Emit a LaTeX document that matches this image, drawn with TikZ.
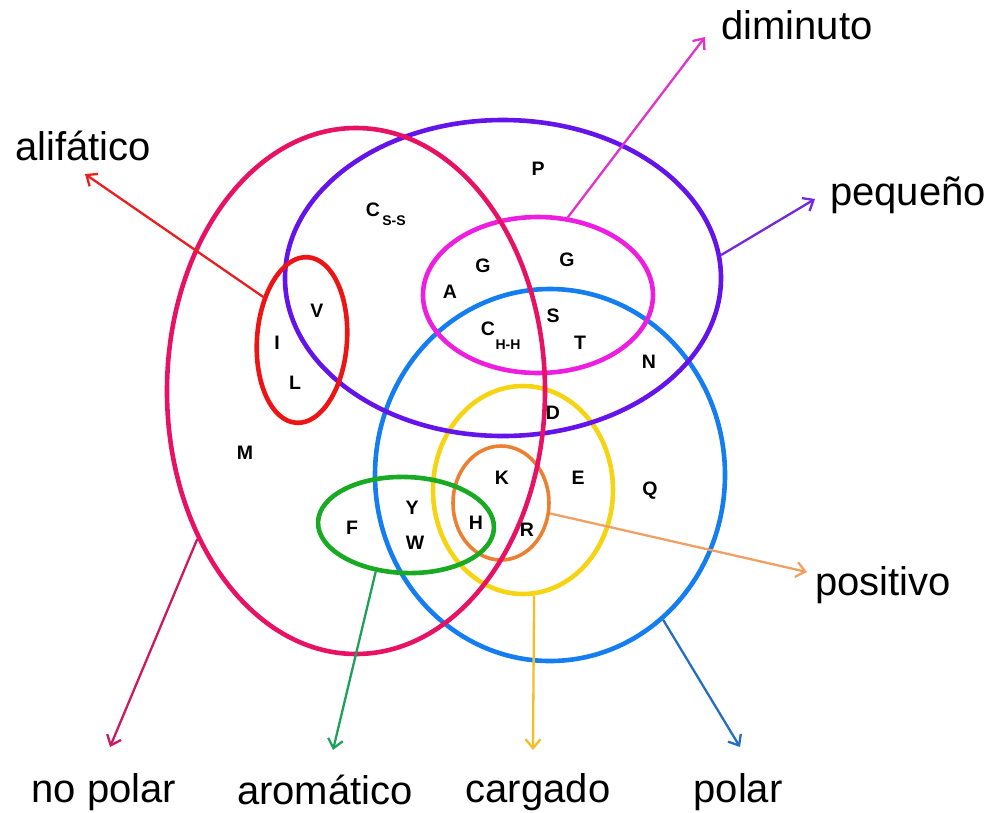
\documentclass[tikz,border=0pt]{standalone}
\usepackage{fontspec}
\setmainfont{Liberation Sans}
\usetikzlibrary{shapes.geometric,arrows.meta}
\definecolor{cpink}{RGB}{232,18,100}
\definecolor{cpurple}{RGB}{100,20,235}
\definecolor{cmag}{RGB}{238,30,225}
\definecolor{cblue}{RGB}{20,125,240}
\definecolor{cyellow}{RGB}{245,212,20}
\definecolor{corange}{RGB}{236,128,50}
\definecolor{cgreen}{RGB}{25,170,35}
\definecolor{cred}{RGB}{236,20,20}
\definecolor{apink}{RGB}{205,25,95}
\definecolor{apurple}{RGB}{115,40,220}
\definecolor{amag}{RGB}{225,50,205}
\definecolor{ablue}{RGB}{35,110,190}
\definecolor{ayellow}{RGB}{245,190,40}
\definecolor{aorange}{RGB}{240,160,100}
\definecolor{agreen}{RGB}{30,160,90}
\definecolor{ared}{RGB}{235,30,30}
\begin{document}
\begin{tikzpicture}[x=1pt,y=-1pt,
  setshape/.style={draw,ellipse,line width=4.6pt,inner sep=0pt},
  lab/.style={font=\fontsize{40}{48}\selectfont,inner sep=0pt,anchor=base},
  aa/.style={font=\bfseries\fontsize{19.5}{21}\selectfont,inner sep=0pt},
  sub/.style={font=\bfseries\fontsize{14}{15}\selectfont,inner sep=0pt},
  arr/.style={line width=2.3pt,-{Straight Barb[length=9pt,width=15pt,line width=2.3pt]}}]
\useasboundingbox (0,0) rectangle (994,812);

% sets
\node[setshape,cblue,minimum width=350pt,minimum height=372pt] (polar) at (550,475) {};
\node[setshape,cyellow,minimum width=180pt,minimum height=208pt] (cargado) at (523,490) {};
\node[setshape,corange,line width=3.6pt,minimum width=96pt,minimum height=114pt] (positivo) at (501,503) {};
\node[setshape,cgreen,rotate=-2,minimum width=176pt,minimum height=96pt] (aromatico) at (406,525) {};
\node[setshape,cpurple,minimum width=436pt,minimum height=316pt] (pequeno) at (503,278) {};
\node[setshape,cmag,minimum width=230pt,minimum height=156pt] (diminuto) at (538,295) {};
\node[setshape,cpink,minimum width=378pt,minimum height=526pt] (nopolar) at (356,391) {};
\node[setshape,cred,rotate=-4,minimum width=90pt,minimum height=166pt] (alifatico) at (302,340) {};

% amino acids
\node[aa] (P) at (538,169) {P};
\node[aa] (Css) at (373,210) {C};
\node[sub] (Csssub) at (394,221) {S-S};
\node[aa] (G1) at (483,266) {G};
\node[aa] (G2) at (567,260) {G};
\node[aa] (A) at (450,292) {A};
\node[aa] (S) at (553,316) {S};
\node[aa] (Chh) at (488,329) {C};
\node[sub] (Chhsub) at (508,345) {H-H};
\node[aa] (T) at (580,343) {T};
\node[aa] (N) at (649,362) {N};
\node[aa] (V) at (317,311) {V};
\node[aa] (I) at (277,343) {I};
\node[aa] (L) at (295,383) {L};
\node[aa] (M) at (245,453) {M};
\node[aa] (D) at (553,413) {D};
\node[aa] (K) at (502,478) {K};
\node[aa] (E) at (578,478) {E};
\node[aa] (Q) at (650,491) {Q};
\node[aa] (Y) at (412,508) {Y};
\node[aa] (F) at (352,528) {F};
\node[aa] (H) at (476,523) {H};
\node[aa] (W) at (415,543) {W};
\node[aa] (R) at (527,530) {R};

% labels
\node[lab] (lali) at (83,160) {alifático};
\node[lab] (ldim) at (797,39) {diminuto};
\node[lab] (lpeq) at (908,205) {pequeño};
\node[lab] (lpos) at (883,595) {positivo};
\node[lab] (lnop) at (104,802) {no polar};
\node[lab] (laro) at (325,804) {aromático};
\node[lab] (lcar) at (538,802) {cargado};
\node[lab] (lpol) at (738,802) {polar};

% arrow tips
\coordinate (tali) at (85,174);
\coordinate (tdim) at (705,37);
\coordinate (tpeq) at (815,199);
\coordinate (tpos) at (807,572);
\coordinate (tnop) at (110,747);
\coordinate (taro) at (333,750);
\coordinate (tcar) at (533,750);
\coordinate (tpol) at (740,747);

% arrows
\draw[arr,ared] (alifatico.136) -- (tali);
\draw[arr,amag] (diminuto.69) -- (tdim);
\draw[arr,apurple] (pequeno.6) -- (tpeq);
\draw[arr,aorange] (positivo.-12) -- (tpos);
\draw[arr,apink] (nopolar.223) -- (tnop);
\draw[arr,agreen] (aromatico.239) -- (taro);
\draw[arr,ayellow] (cargado.-84.5) -- (tcar);
\draw[arr,ablue] (polar.-52) -- (tpol);
\end{tikzpicture}
\end{document}
